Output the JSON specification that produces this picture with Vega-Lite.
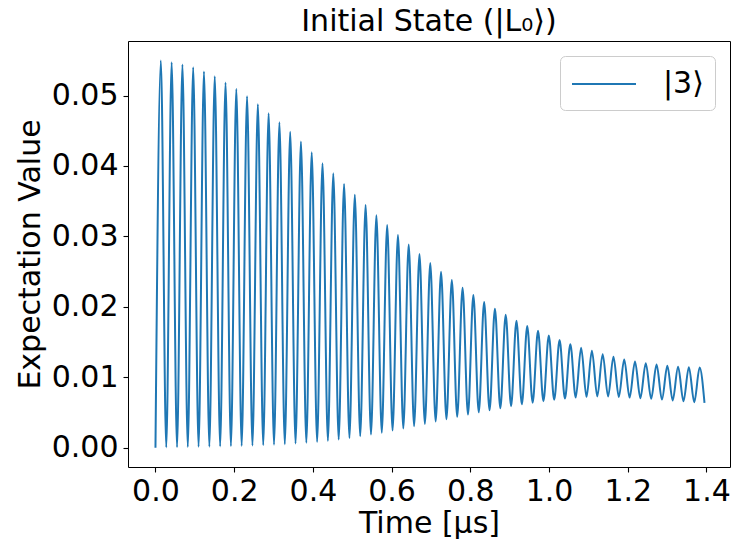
{
  "$schema": "https://vega.github.io/schema/vega-lite/v6.json",
  "width": 602,
  "height": 426,
  "autosize": {"type": "none"},
  "padding": {"left": 128, "top": 41, "right": 1, "bottom": 76},
  "background": "white",
  "title": {
    "text": "Initial State (|L₀⟩)",
    "font": "DejaVu Sans",
    "fontSize": 30,
    "fontWeight": "normal",
    "color": "black",
    "frame": "group",
    "anchor": "middle",
    "offset": 4
  },
  "data": {
    "values": [
      {"t": 0.0000, "v": 0.00000}, {"t": 0.0137, "v": 0.05498},
      {"t": 0.0274, "v": 0.00003}, {"t": 0.0411, "v": 0.05474},
      {"t": 0.0548, "v": 0.00005}, {"t": 0.0685, "v": 0.05442},
      {"t": 0.0821, "v": 0.00008}, {"t": 0.0958, "v": 0.05403},
      {"t": 0.1095, "v": 0.00011}, {"t": 0.1232, "v": 0.05342},
      {"t": 0.1369, "v": 0.00014}, {"t": 0.1506, "v": 0.05275},
      {"t": 0.1643, "v": 0.00017}, {"t": 0.1780, "v": 0.05186},
      {"t": 0.1917, "v": 0.00021}, {"t": 0.2054, "v": 0.05096},
      {"t": 0.2190, "v": 0.00025}, {"t": 0.2327, "v": 0.04991},
      {"t": 0.2464, "v": 0.00029}, {"t": 0.2601, "v": 0.04877},
      {"t": 0.2738, "v": 0.00035}, {"t": 0.2875, "v": 0.04749},
      {"t": 0.3012, "v": 0.00041}, {"t": 0.3149, "v": 0.04621},
      {"t": 0.3286, "v": 0.00049}, {"t": 0.3423, "v": 0.04485},
      {"t": 0.3559, "v": 0.00058}, {"t": 0.3696, "v": 0.04347},
      {"t": 0.3833, "v": 0.00069}, {"t": 0.3970, "v": 0.04195},
      {"t": 0.4107, "v": 0.00081}, {"t": 0.4244, "v": 0.04038},
      {"t": 0.4381, "v": 0.00096}, {"t": 0.4518, "v": 0.03896},
      {"t": 0.4655, "v": 0.00114}, {"t": 0.4792, "v": 0.03745},
      {"t": 0.4928, "v": 0.00138}, {"t": 0.5065, "v": 0.03593},
      {"t": 0.5202, "v": 0.00162}, {"t": 0.5339, "v": 0.03447},
      {"t": 0.5476, "v": 0.00185}, {"t": 0.5613, "v": 0.03299},
      {"t": 0.5750, "v": 0.00213}, {"t": 0.5887, "v": 0.03162},
      {"t": 0.6024, "v": 0.00242}, {"t": 0.6161, "v": 0.03020},
      {"t": 0.6297, "v": 0.00271}, {"t": 0.6434, "v": 0.02886},
      {"t": 0.6571, "v": 0.00304}, {"t": 0.6708, "v": 0.02750},
      {"t": 0.6845, "v": 0.00337}, {"t": 0.6982, "v": 0.02622},
      {"t": 0.7119, "v": 0.00370}, {"t": 0.7256, "v": 0.02498},
      {"t": 0.7393, "v": 0.00404}, {"t": 0.7530, "v": 0.02380},
      {"t": 0.7666, "v": 0.00437}, {"t": 0.7803, "v": 0.02271},
      {"t": 0.7940, "v": 0.00469}, {"t": 0.8077, "v": 0.02167},
      {"t": 0.8214, "v": 0.00501}, {"t": 0.8351, "v": 0.02067},
      {"t": 0.8488, "v": 0.00531}, {"t": 0.8625, "v": 0.01972},
      {"t": 0.8762, "v": 0.00560}, {"t": 0.8899, "v": 0.01887},
      {"t": 0.9035, "v": 0.00589}, {"t": 0.9172, "v": 0.01801},
      {"t": 0.9309, "v": 0.00615}, {"t": 0.9446, "v": 0.01726},
      {"t": 0.9583, "v": 0.00638}, {"t": 0.9720, "v": 0.01659},
      {"t": 0.9857, "v": 0.00660}, {"t": 0.9994, "v": 0.01593},
      {"t": 1.0131, "v": 0.00679}, {"t": 1.0268, "v": 0.01527},
      {"t": 1.0404, "v": 0.00697}, {"t": 1.0541, "v": 0.01470},
      {"t": 1.0678, "v": 0.00711}, {"t": 1.0815, "v": 0.01418},
      {"t": 1.0952, "v": 0.00721}, {"t": 1.1089, "v": 0.01375},
      {"t": 1.1226, "v": 0.00728}, {"t": 1.1363, "v": 0.01328},
      {"t": 1.1500, "v": 0.00727}, {"t": 1.1637, "v": 0.01290},
      {"t": 1.1773, "v": 0.00719}, {"t": 1.1910, "v": 0.01251},
      {"t": 1.2047, "v": 0.00711}, {"t": 1.2184, "v": 0.01223},
      {"t": 1.2321, "v": 0.00702}, {"t": 1.2458, "v": 0.01200},
      {"t": 1.2595, "v": 0.00693}, {"t": 1.2732, "v": 0.01180},
      {"t": 1.2869, "v": 0.00683}, {"t": 1.3006, "v": 0.01162},
      {"t": 1.3142, "v": 0.00670}, {"t": 1.3279, "v": 0.01147},
      {"t": 1.3416, "v": 0.00659}, {"t": 1.3553, "v": 0.01143},
      {"t": 1.3690, "v": 0.00646}, {"t": 1.3827, "v": 0.01138},
      {"t": 1.3950, "v": 0.00635}
    ]
  },
  "mark": {"type": "line", "interpolate": "monotone", "strokeWidth": 2, "clip": true},
  "encoding": {
    "x": {
      "field": "t",
      "type": "quantitative",
      "scale": {"domain": [-0.0698, 1.4598], "nice": false, "zero": false},
      "axis": {
        "title": "Time [μs]",
        "values": [0, 0.2, 0.4, 0.6, 0.8, 1.0, 1.2, 1.4],
        "format": ".1f",
        "labelPadding": 4,
        "titlePadding": 2
      }
    },
    "y": {
      "field": "v",
      "type": "quantitative",
      "scale": {"domain": [-0.00275, 0.05775], "nice": false, "zero": false},
      "axis": {
        "title": "Expectation Value",
        "values": [0, 0.01, 0.02, 0.03, 0.04, 0.05],
        "format": ".2f",
        "labelPadding": 5,
        "titlePadding": 6
      }
    },
    "color": {
      "datum": "|3⟩",
      "type": "nominal",
      "scale": {"range": ["#1f77b4"]},
      "legend": {
        "title": null,
        "orient": "none",
        "legendX": 432,
        "legendY": 15,
        "symbolType": "M-1,0H3",
        "symbolSize": 1024,
        "symbolStrokeWidth": 2,
        "labelOffset": 58,
        "labelFont": "DejaVu Sans",
        "labelFontSize": 30,
        "labelColor": "black",
        "padding": 11,
        "strokeColor": "#cccccc",
        "fillColor": "rgba(255,255,255,0.8)",
        "cornerRadius": 5
      }
    }
  },
  "config": {
    "view": {"stroke": "black", "strokeWidth": 1},
    "axis": {
      "labelFont": "DejaVu Sans",
      "titleFont": "DejaVu Sans",
      "labelFontSize": 30,
      "titleFontSize": 30,
      "titleFontWeight": "normal",
      "labelColor": "black",
      "titleColor": "black",
      "tickColor": "black",
      "tickSize": 5,
      "tickWidth": 1.1,
      "grid": false,
      "domain": false
    }
  }
}
